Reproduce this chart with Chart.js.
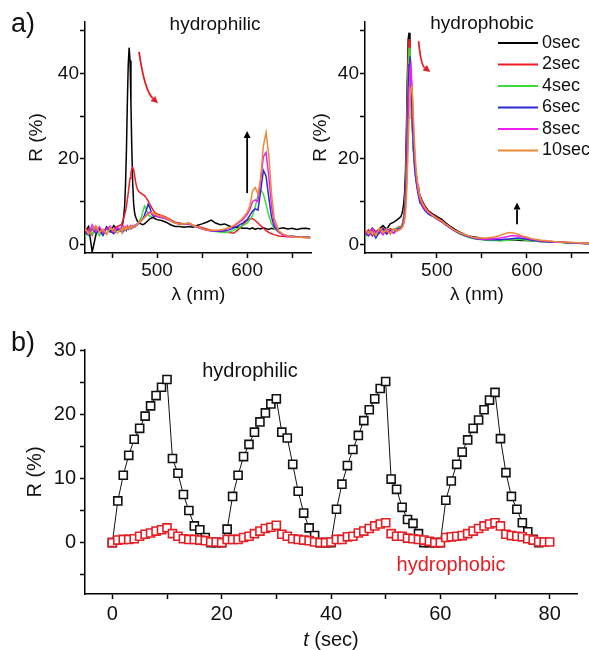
<!DOCTYPE html>
<html>
<head>
<meta charset="utf-8">
<script src="https://cdn.jsdelivr.net/npm/chart.js@4.4.0/dist/chart.umd.min.js"></script>
<style>
    body { margin: 0; background: #fff; }
    #figura { position: relative; width: 589px; height: 650px; overflow: hidden; background: #fff; }
    .painel { position: absolute; }
    #painelA1 { left: 0; top: 0; width: 312px; height: 310px; }
    #painelA2 { left: 290px; top: 0; width: 299px; height: 310px; }
    #painelB { left: 0; top: 320px; width: 589px; height: 330px; }
</style>
</head>
<body>
<div id="figura">
    <div class="painel" id="painelA1"><canvas id="grafico1"></canvas></div>
    <div class="painel" id="painelA2"><canvas id="grafico2"></canvas></div>
    <div class="painel" id="painelB"><canvas id="grafico3"></canvas></div>
</div>
<script>
// ---------- DADOS: ESPECTROS (a) ----------
const comprimentoOnda = [420, 424, 428, 432, 436, 440, 444, 448, 452, 456,
    460, 461, 462, 463, 464, 465, 466, 467, 468, 469, 470, 471, 472, 473, 474, 475, 476, 477, 478, 479, 480,
    482, 484, 486, 488, 490, 492, 494, 496, 498, 500,
    505, 510, 515, 520, 525, 530, 535, 540, 545, 550, 555, 560, 565, 570, 575, 580, 585, 590, 595, 600,
    603, 606, 609, 612, 615, 618, 621, 624, 627, 630,
    635, 640, 645, 650, 655, 660, 665, 670];

const tempos = ['0sec', '2sec', '4sec', '6sec', '8sec', '10sec'];

// superficie hidrofilica
const hidrofilico0 = [3.0, 4.2, -1.8, 2.2, 3.9, 2.6, 4.1, 3.0, 4.4, 3.4,
    3.8, 4.5, 5.0, 6.5, 9.0, 14, 22, 33, 42, 46, 43, 33, 22, 14, 9.5, 7.5, 6.5, 6.0, 5.5, 5.2, 5.0,
    4.8, 4.6, 4.8, 5.2, 5.6, 6.0, 6.2, 6.3, 6.0, 5.8,
    5.6, 5.2, 4.6, 4.2, 4.2, 4.0, 4.2, 4.0, 4.5, 4.8, 5.2, 5.7, 5.0, 4.6, 4.8, 4.3, 4.0, 4.1, 3.8, 3.8,
    3.6, 3.9, 3.5, 3.8, 3.6, 3.9, 3.7, 3.5, 3.8, 3.6,
    3.7, 3.9, 3.6, 3.8, 3.5, 3.7, 3.8, 3.6];
const hidrofilico2 = [2.5, 3.6, 2.2, 4.0, 3.1, 2.4, 3.8, 2.9, 3.5, 4.2,
    4.6, 5.0, 5.6, 6.2, 7.0, 7.8, 9.0, 10.5, 12.0, 13.8, 15.5, 16.8, 17.6, 18.0, 17.5, 16.2, 14.8, 13.8, 13.0, 12.6, 12.3,
    12.0, 11.7, 11.4, 10.9, 10.2, 9.4, 8.6, 7.9, 7.4, 7.1,
    6.8, 6.4, 5.8, 5.2, 5.0, 4.7, 5.0, 4.5, 4.2, 3.9, 3.6, 3.3, 3.2, 3.0, 2.9, 2.8, 2.6, 3.4, 4.6, 5.6,
    6.0, 6.0, 5.6, 5.0, 4.4, 3.8, 3.2, 2.8, 2.5, 2.3,
    2.0, 1.9, 1.8, 1.8, 1.7, 1.7, 1.6, 1.6];
const hidrofilico4 = [1.8, 3.0, 2.4, 3.6, 2.0, 3.3, 2.6, 3.9, 2.8, 3.4,
    3.0, 3.4, 3.1, 3.6, 3.3, 3.8, 3.5, 3.9, 3.7, 4.0, 3.8, 4.1, 4.0, 4.2, 4.1, 4.3, 4.4, 4.6, 4.8, 5.1, 5.5,
    6.0, 7.5, 9.0, 8.2, 7.0, 6.6, 6.6, 6.8, 7.0, 6.8,
    6.4, 6.0, 5.5, 5.0, 4.8, 4.6, 4.9, 4.4, 4.0, 3.7, 3.4, 3.2, 3.0, 2.9, 2.8, 2.9, 3.3, 3.8, 4.4, 5.0,
    5.8, 6.8, 8.8, 11.5, 12.8, 11.8, 9.4, 6.8, 4.9, 3.8,
    2.8, 2.3, 2.0, 1.9, 1.8, 1.8, 1.7, 1.7];
const hidrofilico6 = [2.9, 2.2, 3.7, 2.6, 3.4, 2.1, 3.9, 3.1, 2.5, 3.6,
    3.2, 3.6, 3.0, 3.9, 3.4, 3.7, 3.3, 4.0, 3.6, 3.9, 3.7, 4.1, 3.8, 4.2, 4.0, 4.3, 4.2, 4.5, 4.6, 4.8, 5.0,
    5.4, 6.0, 6.8, 8.0, 9.4, 8.6, 7.2, 6.6, 6.6, 6.5,
    6.3, 6.0, 5.6, 5.1, 4.8, 4.7, 4.9, 4.4, 4.0, 3.7, 3.4, 3.2, 3.1, 3.1, 3.2, 3.4, 3.8, 4.4, 5.0, 5.8,
    6.8, 7.8, 8.3, 8.0, 12.5, 17.3, 16.0, 11.0, 6.5, 4.2,
    2.9, 2.3, 2.0, 1.9, 1.8, 1.7, 1.7, 1.6];
const hidrofilico8 = [3.4, 2.6, 4.6, 3.0, 4.1, 2.7, 3.6, 4.3, 2.9, 3.9,
    3.5, 4.0, 3.4, 4.2, 3.7, 4.1, 3.6, 4.3, 3.9, 4.2, 4.0, 4.3, 4.1, 4.4, 4.2, 4.5, 4.4, 4.6, 4.8, 5.0, 5.2,
    5.5, 5.9, 6.3, 6.8, 7.3, 7.6, 7.2, 6.8, 6.7, 6.6,
    6.3, 6.0, 5.5, 5.0, 4.8, 4.7, 4.9, 4.4, 4.0, 3.6, 3.3, 3.2, 3.2, 3.3, 3.5, 3.8, 4.3, 5.0, 5.8, 7.0,
    8.2, 10.0, 10.4, 10.0, 15.0, 20.5, 21.5, 16.0, 9.0, 5.0,
    2.9, 2.2, 1.9, 1.8, 1.7, 1.7, 1.6, 1.6];
const hidrofilico10 = [3.8, 2.4, 3.2, 4.4, 2.8, 3.6, 2.3, 3.9, 3.3, 2.7,
    3.6, 3.2, 4.0, 3.5, 3.9, 3.4, 4.1, 3.7, 4.0, 3.8, 4.2, 3.9, 4.2, 4.0, 4.3, 4.2, 4.4, 4.5, 4.7, 4.9, 5.1,
    5.5, 5.9, 6.3, 6.7, 7.0, 7.3, 7.4, 7.3, 7.1, 6.9,
    6.6, 6.2, 5.6, 5.0, 4.8, 4.8, 5.0, 4.5, 4.1, 3.7, 3.4, 3.3, 3.3, 3.4, 3.6, 3.9, 4.4, 5.2, 6.2, 7.5,
    9.0, 12.5, 13.3, 11.8, 15.5, 23.0, 26.2, 21.0, 12.0, 6.2,
    3.2, 2.4, 2.0, 1.8, 1.7, 1.7, 1.6, 1.5];

// superficie hidrofobica
const hidrofobico0 = [3.2, 2.6, 3.8, 2.9, 3.6, 4.4, 3.5, 4.8, 5.2, 5.8,
    6.5, 7.2, 8.0, 9.5, 12, 17, 26, 38, 48, 49.5, 44, 37, 31, 26, 22, 19.5, 17.5, 16, 14.5, 13.2, 12.2,
    11.0, 10.0, 9.2, 8.6, 8.0, 7.6, 7.3, 7.0, 6.8, 6.5,
    5.9, 5.0, 4.2, 3.5, 2.9, 2.4, 2.0, 1.8, 1.6, 1.4, 1.3, 1.3, 1.2, 1.1, 1.1, 1.0, 1.1, 1.0, 0.9, 0.9,
    0.9, 0.8, 0.8, 0.8, 0.7, 0.7, 0.7, 0.6, 0.6, 0.6,
    0.5, 0.5, 0.4, 0.4, 0.3, 0.3, 0.2, 0.2];
const hidrofobico2 = [2.4, 3.4, 2.0, 3.1, 2.6, 3.9, 2.8, 3.7, 3.3, 4.0,
    4.2, 4.6, 5.2, 6.5, 9, 14, 23, 35, 45, 48, 44, 37, 31, 26, 22, 19.3, 17.2, 15.6, 14.2, 13.0, 12.0,
    10.8, 9.8, 9.0, 8.4, 7.8, 7.4, 7.1, 6.8, 6.5, 6.2,
    5.6, 4.7, 3.9, 3.2, 2.6, 2.1, 1.8, 1.5, 1.3, 1.2, 1.1, 1.1, 1.0, 1.0, 1.0, 1.1, 1.2, 1.3, 1.2, 1.0,
    0.9, 0.9, 0.8, 0.8, 0.7, 0.7, 0.7, 0.6, 0.6, 0.6,
    0.5, 0.5, 0.4, 0.4, 0.3, 0.3, 0.2, 0.2];
const hidrofobico4 = [1.6, 2.8, 3.5, 2.2, 3.0, 2.5, 3.8, 2.9, 3.4, 3.9,
    4.0, 4.3, 4.8, 5.8, 8, 12, 19, 30, 40, 46, 44.5, 38, 31, 25.5, 21, 18, 16, 14.5, 13.2, 12.0, 11.0,
    9.8, 9.0, 8.3, 7.8, 7.3, 7.0, 6.8, 6.6, 6.3, 6.0,
    5.4, 4.6, 3.8, 3.1, 2.5, 2.1, 1.7, 1.4, 1.2, 1.1, 1.0, 0.9, 0.9, 0.8, 0.9, 1.0, 1.1, 1.2, 1.1, 1.0,
    0.9, 0.8, 0.8, 0.7, 0.7, 0.7, 0.6, 0.6, 0.6, 0.5,
    0.5, 0.4, 0.4, 0.3, 0.3, 0.2, 0.2, 0.2];
const hidrofobico6 = [2.8, 2.0, 3.3, 1.5, 2.9, 3.6, 2.4, 3.2, 2.7, 3.6,
    3.8, 4.1, 4.5, 5.3, 7, 10, 16, 26, 36, 42, 44, 40, 33, 27, 22, 18.5, 16.2, 14.5, 13.1, 11.9, 10.9,
    9.6, 8.8, 8.1, 7.6, 7.2, 6.9, 6.7, 6.5, 6.2, 5.9,
    5.3, 4.5, 3.8, 3.1, 2.6, 2.2, 1.8, 1.5, 1.3, 1.2, 1.1, 1.1, 1.1, 1.1, 1.2, 1.3, 1.4, 1.5, 1.4, 1.2,
    1.1, 1.0, 0.9, 0.8, 0.8, 0.7, 0.7, 0.6, 0.6, 0.6,
    0.5, 0.5, 0.4, 0.4, 0.3, 0.3, 0.2, 0.2];
const hidrofobico8 = [3.0, 2.3, 3.7, 2.7, 3.3, 2.2, 3.6, 3.0, 2.6, 3.5,
    3.7, 4.0, 4.3, 5.0, 6.2, 8.5, 13, 21, 30, 37, 41, 42, 38, 32, 26, 21.5, 18, 15.8, 14.0, 12.6, 11.4,
    10.0, 9.1, 8.4, 7.9, 7.5, 7.2, 6.9, 6.6, 6.3, 6.0,
    5.4, 4.6, 3.9, 3.2, 2.7, 2.3, 1.9, 1.6, 1.4, 1.3, 1.3, 1.3, 1.4, 1.5, 1.7, 1.9, 2.1, 2.0, 1.8, 1.5,
    1.3, 1.2, 1.1, 1.0, 0.9, 0.8, 0.8, 0.7, 0.7, 0.6,
    0.6, 0.5, 0.5, 0.4, 0.4, 0.3, 0.3, 0.2];
const hidrofobico10 = [3.5, 2.6, 3.0, 2.1, 3.8, 2.8, 3.3, 2.4, 3.7, 3.1,
    3.6, 3.9, 4.2, 4.7, 5.6, 7.2, 10.5, 16, 23, 29.5, 34, 36.5, 37, 34, 29, 24, 20, 17.2, 15.2, 13.6, 12.3,
    10.6, 9.6, 8.8, 8.2, 7.7, 7.3, 7.0, 6.7, 6.4, 6.1,
    5.5, 4.7, 4.0, 3.3, 2.8, 2.4, 2.0, 1.7, 1.5, 1.5, 1.5, 1.6, 1.8, 2.1, 2.5, 2.8, 2.7, 2.4, 2.0, 1.7,
    1.5, 1.3, 1.2, 1.1, 1.0, 0.9, 0.9, 0.8, 0.8, 0.7,
    0.6, 0.6, 0.5, 0.5, 0.4, 0.4, 0.3, 0.3];

// marcas dos eixos (a)
const marcasLambda = [450, 500, 550, 600, 650];
const rotulosLambda = [500, 600];
const marcasR = [0, 10, 20, 30, 40, 50];
const rotulosR = [0, 20, 40];

// ---------- DADOS: CICLOS (b) ----------
const tempoHidrofilico = [0, 1, 2, 3, 4, 5, 6, 7, 8, 9, 10, 11, 12, 13, 14, 15, 16, 17, 18, 19,
    20, 21, 22, 23, 24, 25, 26, 27, 28, 29, 30, 31, 32, 33, 34, 35, 36, 37, 38, 39,
    40, 41, 42, 43, 44, 45, 46, 47, 48, 49, 50, 51, 52, 53, 54, 55, 56, 57, 58, 59,
    60, 61, 62, 63, 64, 65, 66, 67, 68, 69, 70, 71, 72, 73, 74, 75, 76, 77, 78];
const ciclosHidrofilico = [0, 6.5, 10.5, 13.6, 16.1, 17.8, 19.7, 21.3, 22.9, 24.2, 25.4, 13.1, 10.8, 7.5, 5.0, 2.6, 2.0, 0.8, 0, 0,
    0, 2.1, 7.2, 10.5, 13.4, 15.3, 17.2, 18.8, 20.2, 21.6, 22.4, 17.2, 16.3, 12.2, 8.0, 4.6, 2.3, 1.1, 0, 0,
    0, 5.2, 9.1, 12.0, 14.5, 16.7, 19.0, 20.7, 22.4, 24.0, 25.1, 9.9, 8.3, 5.5, 3.6, 3.0, 1.4, 0, 0, 0,
    0, 6.6, 9.6, 12.2, 14.1, 16.0, 17.8, 19.1, 20.7, 22.2, 23.4, 16.2, 10.9, 7.2, 5.2, 3.1, 1.7, 0.5, 0];

const tempoHidrofobico = [0, 1, 2, 3, 4, 5, 6, 7, 8, 9, 10, 11, 12, 13, 14, 15, 16, 17, 18, 19,
    20, 21, 22, 23, 24, 25, 26, 27, 28, 29, 30, 31, 32, 33, 34, 35, 36, 37, 38, 39,
    40, 41, 42, 43, 44, 45, 46, 47, 48, 49, 50, 51, 52, 53, 54, 55, 56, 57, 58, 59,
    60, 61, 62, 63, 64, 65, 66, 67, 68, 69, 70, 71, 72, 73, 74, 75, 76, 77, 78, 79, 80];
const ciclosHidrofobico = [0, 0.4, 0.5, 0.5, 0.6, 1.0, 1.3, 1.5, 1.8, 2.0, 2.3, 1.4, 1.0, 0.6, 0.5, 0.5, 0.4, 0.3, 0.1, 0.1,
    0, 0.5, 0.5, 0.5, 0.8, 1.0, 1.4, 1.8, 2.2, 2.4, 2.7, 1.3, 1.0, 0.6, 0.5, 0.4, 0.3, 0.1, 0, 0,
    0.1, 0.5, 0.5, 0.9, 1.0, 1.5, 1.8, 2.2, 2.6, 2.9, 3.1, 1.4, 1.0, 1.0, 0.7, 0.6, 0.5, 0.4, 0.2, 0,
    0, 0.8, 0.9, 1.0, 1.1, 1.4, 1.8, 2.2, 2.6, 2.9, 3.1, 2.6, 1.3, 1.1, 1.0, 0.9, 0.6, 0.4, 0.1, 0.1, 0.1];

const marcasTempo = [0, 10, 20, 30, 40, 50, 60, 70, 80];
const rotulosTempo = [0, 20, 40, 60, 80];
const marcasCiclo = [-5, 0, 5, 10, 15, 20, 25, 30];
const rotulosCiclo = [0, 10, 20, 30];

// ---------- ESTILO ----------
const coresTempo = ['#000000', '#ee1c24', '#3cdc3c', '#2b2bd6', '#f01ef0', '#ec8b35'];
const vermelho = '#e31e24';
const fonte = "'Liberation Sans', Arial, sans-serif";

Chart.defaults.font.family = fonte;
Chart.defaults.color = '#111';
Chart.defaults.animation = false;
Chart.defaults.plugins.legend.display = false;
Chart.defaults.plugins.tooltip.enabled = false;

// setas em coordenadas dos dados (lambda, R)
const setasHidrofilico = [
    { de: [480, 45], meio: [486, 36], ate: [501, 33], cor: vermelho },
    { de: [600, 12], ate: [600, 26.5], cor: '#000' }
];
const setasHidrofobico = [
    { de: [479.6, 47.5], meio: [482, 42], ate: [492.6, 40.3], cor: vermelho },
    { de: [589, 4.7], ate: [589, 9.8], cor: '#000' }
];

function montarSerie(valores, i) {
    return {
        label: tempos[i],
        data: comprimentoOnda.map(function (l, k) { return { x: l, y: valores[k] } }),
        borderColor: coresTempo[i],
        backgroundColor: coresTempo[i],
        borderWidth: 1.5,
        pointRadius: 0,
        tension: 0,
        order: 5 - i
    }
}

function escrever(ctx, texto, x, y, tamanho, cor, alinhar, estilo) {
    ctx.save();
    ctx.font = (estilo || '') + ' ' + tamanho + 'px ' + fonte;
    ctx.fillStyle = cor;
    ctx.textAlign = alinhar || 'center';
    ctx.textBaseline = 'middle';
    ctx.fillText(texto, x, y);
    ctx.restore();
}

function desenharSeta(chart, s) {
    const ctx = chart.ctx;
    const ex = chart.scales.x, ey = chart.scales.y;
    const x1 = ex.getPixelForValue(s.de[0]), y1 = ey.getPixelForValue(s.de[1]);
    const x2 = ex.getPixelForValue(s.ate[0]), y2 = ey.getPixelForValue(s.ate[1]);
    let cx = x1, cy = y1;
    if (s.meio) { cx = ex.getPixelForValue(s.meio[0]); cy = ey.getPixelForValue(s.meio[1]); }
    const ang = Math.atan2(y2 - cy, x2 - cx);
    const bx = x2 - Math.cos(ang) * 7, by = y2 - Math.sin(ang) * 7;
    ctx.save();
    ctx.strokeStyle = s.cor;
    ctx.fillStyle = s.cor;
    ctx.lineWidth = 1.8;
    ctx.beginPath();
    ctx.moveTo(x1, y1);
    if (s.meio) ctx.quadraticCurveTo(cx, cy, bx, by); else ctx.lineTo(bx, by);
    ctx.stroke();
    ctx.beginPath();
    ctx.moveTo(x2, y2);
    ctx.lineTo(bx + Math.sin(ang) * 3.5, by - Math.cos(ang) * 3.5);
    ctx.lineTo(bx - Math.sin(ang) * 3.5, by + Math.cos(ang) * 3.5);
    ctx.closePath();
    ctx.fill();
    ctx.restore();
}

// eixos dos espectros
function eixoLambda(maximo) {
    return {
        type: 'linear', min: 420, max: maximo,
        afterFit: function (escala) { escala.height = 57 },
        afterBuildTicks: function (escala) { escala.ticks = marcasLambda.map(function (v) { return { value: v } }) },
        grid: { drawOnChartArea: false, drawTicks: true, tickLength: 5, tickWidth: 1.5, tickColor: '#000' },
        border: { color: '#000', width: 1.5 },
        ticks: {
            autoSkip: false, maxRotation: 0, padding: 1, font: { size: 19 },
            callback: function (v) { return rotulosLambda.indexOf(v) >= 0 ? String(v) : '' }
        },
        title: { display: true, text: 'λ (nm)', font: { size: 19 }, padding: { top: 0, bottom: 4 } }
    }
}

function eixoR(largura, recuoTitulo) {
    return {
        min: -2, max: 52,
        afterFit: function (escala) { escala.width = largura },
        afterBuildTicks: function (escala) { escala.ticks = marcasR.map(function (v) { return { value: v } }) },
        grid: { drawOnChartArea: false, drawTicks: true, tickLength: 5, tickWidth: 1.5, tickColor: '#000' },
        border: { color: '#000', width: 1.5 },
        ticks: {
            autoSkip: false, padding: 1, font: { size: 19 },
            callback: function (v) { return rotulosR.indexOf(v) >= 0 ? String(v) : '' }
        },
        title: { display: true, text: 'R (%)', font: { size: 19 }, padding: { top: recuoTitulo, bottom: 0 } }
    }
}

// ---------- GRAFICO 1: hidrofilico ----------
const grafico1 = document.getElementById('grafico1');
const config_grafico1 = {
    type: 'line',
    data: {
        datasets: [hidrofilico0, hidrofilico2, hidrofilico4, hidrofilico6, hidrofilico8, hidrofilico10].map(montarSerie)
    },
    options: {
        responsive: true,
        maintainAspectRatio: false,
        layout: { autoPadding: false, padding: { top: 22, right: 0, left: 0, bottom: 0 } },
        scales: { x: eixoLambda(672), y: eixoR(85, 25) }
    },
    plugins: [{
        id: 'anotacoes1',
        afterDraw: function (chart) {
            escrever(chart.ctx, 'a)', 11, 25, 27, '#111', 'left');
            escrever(chart.ctx, 'hydrophilic', 215, 25, 19, '#111');
            setasHidrofilico.forEach(function (s) { desenharSeta(chart, s) });
        }
    }]
};
const grafico_1 = new Chart(grafico1, config_grafico1);

// ---------- GRAFICO 2: hidrofobico ----------
const grafico2 = document.getElementById('grafico2');
const config_grafico2 = {
    type: 'line',
    data: {
        datasets: [hidrofobico0, hidrofobico2, hidrofobico4, hidrofobico6, hidrofobico8, hidrofobico10].map(montarSerie)
    },
    options: {
        responsive: true,
        maintainAspectRatio: false,
        layout: { autoPadding: false, padding: { top: 22, right: 0, left: 0, bottom: 0 } },
        scales: { x: eixoLambda(669), y: eixoR(75, 19) }
    },
    plugins: [{
        id: 'anotacoes2',
        afterDraw: function (chart) {
            const ctx = chart.ctx;
            escrever(ctx, 'hydrophobic', 192, 24, 19, '#111');
            setasHidrofobico.forEach(function (s) { desenharSeta(chart, s) });
            // legenda
            chart.data.datasets.forEach(function (ds, i) {
                const y = 43 + i * 21.5;
                ctx.save();
                ctx.strokeStyle = ds.borderColor;
                ctx.lineWidth = 2;
                ctx.beginPath();
                ctx.moveTo(208, y);
                ctx.lineTo(248, y);
                ctx.stroke();
                ctx.restore();
                escrever(ctx, ds.label, 252, y, 18, '#111', 'left');
            });
        }
    }]
};
const grafico_2 = new Chart(grafico2, config_grafico2);

// ---------- GRAFICO 3: ciclos ----------
const grafico3 = document.getElementById('grafico3');
const config_grafico3 = {
    type: 'line',
    data: {
        datasets: [
            {
                label: 'hydrophilic',
                data: tempoHidrofilico.map(function (t, k) { return { x: t, y: ciclosHidrofilico[k] } }),
                borderColor: '#111',
                borderWidth: 1,
                pointStyle: 'rect',
                pointRadius: 5.7,
                pointBorderWidth: 1.6,
                pointBorderColor: '#111',
                pointBackgroundColor: '#fff',
                tension: 0,
                order: 1
            },
            {
                label: 'hydrophobic',
                data: tempoHidrofobico.map(function (t, k) { return { x: t, y: ciclosHidrofobico[k] } }),
                showLine: false,
                borderColor: vermelho,
                pointStyle: 'rect',
                pointRadius: 5.7,
                pointBorderWidth: 1.6,
                pointBorderColor: vermelho,
                pointBackgroundColor: '#fff',
                order: 0
            }
        ]
    },
    options: {
        responsive: true,
        maintainAspectRatio: false,
        layout: { autoPadding: false, padding: { top: 30, right: 12, left: 0, bottom: 0 } },
        scales: {
            x: {
                type: 'linear', min: -5, max: 85,
                afterFit: function (escala) { escala.height = 56 },
                afterBuildTicks: function (escala) { escala.ticks = marcasTempo.map(function (v) { return { value: v } }) },
                grid: { drawOnChartArea: false, drawTicks: true, tickLength: 5, tickWidth: 1.5, tickColor: '#000' },
                border: { color: '#000', width: 1.5 },
                ticks: {
                    autoSkip: false, maxRotation: 0, padding: 3, font: { size: 20 },
                    callback: function (v) { return rotulosTempo.indexOf(v) >= 0 ? String(v) : '' }
                }
            },
            y: {
                min: -8, max: 30,
                afterFit: function (escala) { escala.width = 85 },
                afterBuildTicks: function (escala) { escala.ticks = marcasCiclo.map(function (v) { return { value: v } }) },
                grid: { drawOnChartArea: false, drawTicks: true, tickLength: 5, tickWidth: 1.5, tickColor: '#000' },
                border: { color: '#000', width: 1.5 },
                ticks: {
                    autoSkip: false, padding: 4, font: { size: 20 },
                    callback: function (v) { return rotulosCiclo.indexOf(v) >= 0 ? String(v) : '' }
                },
                title: { display: true, text: 'R (%)', font: { size: 20 }, padding: { top: 23, bottom: 0 } }
            }
        }
    },
    plugins: [{
        id: 'anotacoes3',
        afterDraw: function (chart) {
            const ctx = chart.ctx;
            const area = chart.chartArea;
            escrever(ctx, 'b)', 11, 24, 27, '#111', 'left');
            escrever(ctx, 'hydrophilic', 250, 51, 20, '#111');
            escrever(ctx, 'hydrophobic', 451, 245, 20, vermelho);
            // titulo do eixo x com o t em italico
            ctx.save();
            ctx.font = 'italic 20px ' + fonte;
            const larguraT = ctx.measureText('t').width;
            ctx.font = '20px ' + fonte;
            const larguraResto = ctx.measureText(' (sec)').width;
            ctx.restore();
            const inicio = (area.left + area.right) / 2 - (larguraT + larguraResto) / 2;
            escrever(ctx, 't', inicio, 320, 20, '#111', 'left', 'italic');
            escrever(ctx, ' (sec)', inicio + larguraT, 320, 20, '#111', 'left');
        }
    }]
};
const grafico_3 = new Chart(grafico3, config_grafico3);
</script>
</body>
</html>
